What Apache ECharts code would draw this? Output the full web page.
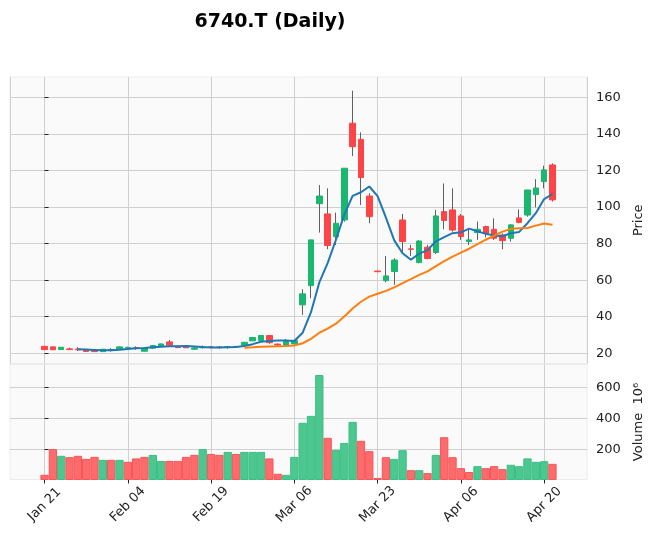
<!DOCTYPE html>
<html>
<head>
<meta charset="utf-8">
<title>6740.T (Daily)</title>
<script src="https://cdn.jsdelivr.net/npm/echarts@6/dist/echarts.min.js"></script>
<style>
  html, body { margin: 0; padding: 0; background: #ffffff; }
  #chart { width: 656px; height: 543px; }
</style>
</head>
<body>
<div id="chart"></div>
<script>
// trading days, one bar per entry
const dates = [
  'Jan 21', 'Jan 22', 'Jan 23', 'Jan 24', 'Jan 27', 'Jan 28', 'Jan 29', 'Jan 30', 'Jan 31', 'Feb 03',
  'Feb 04', 'Feb 05', 'Feb 06', 'Feb 07', 'Feb 10', 'Feb 12', 'Feb 13', 'Feb 14', 'Feb 17', 'Feb 18',
  'Feb 19', 'Feb 20', 'Feb 21', 'Feb 25', 'Feb 26', 'Feb 27', 'Feb 28', 'Mar 03', 'Mar 04', 'Mar 05',
  'Mar 06', 'Mar 09', 'Mar 10', 'Mar 11', 'Mar 12', 'Mar 13', 'Mar 16', 'Mar 17', 'Mar 18', 'Mar 19',
  'Mar 23', 'Mar 24', 'Mar 25', 'Mar 26', 'Mar 27', 'Mar 30', 'Mar 31', 'Apr 01', 'Apr 02', 'Apr 03',
  'Apr 06', 'Apr 07', 'Apr 08', 'Apr 09', 'Apr 10', 'Apr 13', 'Apr 14', 'Apr 15', 'Apr 16', 'Apr 17',
  'Apr 20', 'Apr 21'
];

const opens = [
  23.8, 23.5, 22.0, 22.4, 22.3, 21.9, 21.8, 20.9, 21.9, 22.2,
  23.0, 23.1, 21.1, 22.8, 24.0, 26.2, 23.7, 24.1, 22.2, 23.0,
  23.5, 23.4, 23.2, 23.7, 24.4, 26.8, 27.0, 29.7, 25.0, 24.4,
  25.1, 46.5, 57.0, 101.8, 96.2, 83.8, 92.9, 145.8, 137.0, 106.0,
  65.0, 59.7, 64.7, 92.9, 77.1, 69.6, 78.0, 75.1, 97.5, 98.4,
  95.1, 81.1, 86.0, 89.3, 87.8, 84.7, 82.9, 94.0, 95.6, 106.8,
  113.9, 123.0
];
const closes = [
  22.0, 21.9, 23.3, 22.0, 21.9, 21.0, 20.9, 22.2, 22.1, 23.5,
  23.2, 23.0, 22.6, 24.2, 25.1, 24.4, 23.1, 23.0, 22.9, 23.4,
  23.3, 23.2, 23.6, 23.5, 26.0, 28.6, 29.7, 25.8, 24.5, 26.4,
  27.0, 52.5, 82.0, 106.0, 78.9, 91.1, 121.2, 133.0, 116.1, 94.7,
  64.6, 62.3, 71.0, 81.1, 76.8, 81.4, 71.8, 95.1, 92.6, 87.4,
  83.8, 82.0, 87.8, 85.6, 82.9, 81.6, 90.2, 91.6, 109.3, 110.4,
  120.3, 103.9
];
const lows = [
  21.9, 21.8, 21.9, 21.9, 21.2, 20.8, 20.8, 20.8, 20.9, 22.0,
  21.8, 21.9, 21.0, 22.4, 23.9, 24.0, 22.8, 22.9, 22.0, 22.6,
  22.7, 22.5, 22.5, 23.2, 24.2, 26.6, 26.9, 25.2, 24.0, 24.0,
  24.8, 41.0, 50.1, 86.0, 76.9, 79.2, 92.0, 127.9, 101.1, 91.1,
  64.5, 58.8, 57.4, 75.6, 73.2, 69.2, 71.4, 74.3, 87.8, 86.5,
  82.0, 79.2, 82.0, 83.4, 82.0, 76.9, 81.1, 91.1, 94.7, 99.8,
  110.2, 103.0
];
const highs = [
  24.0, 23.6, 23.4, 23.1, 23.4, 22.0, 21.9, 22.3, 22.8, 23.7,
  23.6, 23.8, 22.9, 24.4, 25.3, 27.3, 24.2, 24.3, 23.2, 24.2,
  24.0, 23.8, 24.0, 24.1, 26.2, 28.8, 30.0, 29.9, 25.3, 27.8,
  27.5, 55.0, 82.0, 112.0, 110.2, 96.9, 121.2, 163.6, 140.8, 107.5,
  65.1, 73.2, 72.0, 96.2, 79.3, 81.8, 79.3, 98.4, 112.9, 110.2,
  96.2, 88.4, 92.0, 89.8, 93.8, 85.6, 90.7, 98.7, 109.3, 115.2,
  122.6, 123.9
];
// volume in millions of shares
const volumes = [
  34, 200, 157, 148, 157, 137, 150, 131, 131, 131,
  118, 140, 150, 163, 124, 124, 124, 150, 163, 200,
  169, 163, 182, 169, 182, 182, 182, 140, 41, 34,
  150, 370, 415, 679, 273, 195, 240, 376, 254, 187,
  13, 148, 137, 193, 64, 64, 45, 163, 277, 148,
  77, 52, 90, 77, 90, 71, 99, 90, 140, 118,
  122, 105
];

const dateTicks = [0, 10, 20, 30, 40, 50, 60];
const priceTicks = [20, 40, 60, 80, 100, 120, 140, 160];
const volumeTicks = [200, 400, 600];
const mavWindows = [5, 25];

const UP = '#19b76f';
const DOWN = '#fe4446';
const WICK = '#606060';
const VOL_UP = '#4dc790';
const VOL_DOWN = '#fd6b6c';
const FONT = 'DejaVu Sans';

function movingAverage(values, n) {
  const out = [];
  for (let i = n - 1; i < values.length; i++) {
    let sum = 0;
    for (let k = i - n + 1; k <= i; k++) sum += values[k];
    out.push([i, sum / n]);
  }
  return out;
}

const wickData = opens.map((o, i) => [i, o, closes[i], lows[i], highs[i]]);
const bodyData = opens.map((o, i) => [i, o, closes[i], Math.min(o, closes[i]), Math.max(o, closes[i])]);
const volumeData = volumes.map((v, i) => {
  const up = i > 0 && closes[i] > closes[i - 1];
  return {
    value: [i, v],
    itemStyle: {
      color: up ? VOL_UP : VOL_DOWN,
      borderColor: up ? '#3cbd83' : '#f85557',
      borderWidth: 1
    }
  };
});

const xMin = -4.15;
const xMax = volumes.length + 3.15;

const chart = echarts.init(document.getElementById('chart'), null, { renderer: 'canvas' });

const gridLine = { show: true, lineStyle: { color: '#d0d0d0', width: 1 } };

const xAxisBase = {
  type: 'value',
  min: xMin,
  max: xMax,
  minInterval: 10,
  maxInterval: 10,
  z: 1,
  axisLine: { show: false },
  splitLine: gridLine
};

const option = {
  animation: false,
  backgroundColor: '#ffffff',
  textStyle: { fontFamily: FONT },
  title: {
    text: '6740.T (Daily)',
    left: 265,
    top: 8,
    textAlign: 'center',
    textStyle: { fontFamily: FONT, fontSize: 19, fontWeight: 'bold', color: '#000000' }
  },
  graphic: [
    { type: 'rect', z: -10, silent: true, shape: { x: 10, y: 77, width: 577, height: 286.5 },
      style: { fill: '#fafafa', stroke: '#ececec', lineWidth: 1 } },
    { type: 'rect', z: -10, silent: true, shape: { x: 10, y: 364.5, width: 577, height: 115 },
      style: { fill: '#fafafa', stroke: '#ececec', lineWidth: 1 } }
  ],
  grid: [
    { left: 10, right: 69, top: 77, height: 286.5 },
    { left: 10, right: 69, top: 364.5, height: 115 }
  ],
  xAxis: [
    Object.assign({}, xAxisBase, {
      gridIndex: 0,
      axisTick: { show: false },
      axisLabel: { show: false }
    }),
    Object.assign({}, xAxisBase, {
      gridIndex: 1,
      axisTick: { show: true, length: 4, lineStyle: { color: '#222222' }, customValues: dateTicks },
      axisLabel: {
        show: true,
        customValues: dateTicks,
        rotate: 45,
        align: 'center',
        verticalAlign: 'middle',
        margin: 25,
        fontFamily: FONT,
        fontSize: 13,
        color: '#222222',
        formatter: (v) => {
          const i = Math.round(v);
          return Math.abs(v - i) < 1e-6 && dates[i] ? dates[i] : '';
        }
      }
    })
  ],
  yAxis: [
    {
      type: 'value',
      gridIndex: 0,
      position: 'right',
      min: 14.4,
      max: 171.1,
      minInterval: 20,
      maxInterval: 20,
      z: 1,
      name: 'Price',
      nameLocation: 'middle',
      nameRotate: 90,
      nameGap: 41,
      nameTextStyle: { fontFamily: FONT, fontSize: 13, color: '#222222' },
      axisLine: { show: false },
      axisTick: { show: true, length: 4, lineStyle: { color: '#222222' }, customValues: priceTicks },
      axisLabel: {
        customValues: priceTicks,
        margin: 9,
        fontFamily: FONT,
        fontSize: 13,
        color: '#222222'
      },
      splitLine: gridLine
    },
    {
      type: 'value',
      gridIndex: 1,
      position: 'right',
      min: 0.3 * Math.min(...volumes),
      max: 1.1 * Math.max(...volumes),
      minInterval: 200,
      maxInterval: 200,
      z: 1,
      name: 'Volume  10⁶',
      nameLocation: 'middle',
      nameRotate: 90,
      nameGap: 43,
      nameTextStyle: { fontFamily: FONT, fontSize: 13, color: '#222222' },
      axisLine: { show: false },
      axisTick: { show: true, length: 4, lineStyle: { color: '#222222' }, customValues: volumeTicks },
      axisLabel: {
        customValues: volumeTicks,
        margin: 9,
        fontFamily: FONT,
        fontSize: 13,
        color: '#222222'
      },
      splitLine: gridLine
    }
  ],
  series: [
    {
      name: 'wick',
      type: 'candlestick',
      xAxisIndex: 0,
      yAxisIndex: 0,
      barWidth: 1,
      data: wickData,
      itemStyle: { color: WICK, color0: WICK, borderColor: WICK, borderColor0: WICK, borderWidth: 1 },
      z: 2
    },
    {
      name: 'body',
      type: 'candlestick',
      xAxisIndex: 0,
      yAxisIndex: 0,
      barWidth: 6,
      data: bodyData,
      itemStyle: { color: UP, color0: DOWN, borderColor: UP, borderColor0: DOWN, borderWidth: 1 },
      z: 3
    },
    {
      name: 'MA' + mavWindows[0],
      type: 'line',
      xAxisIndex: 0,
      yAxisIndex: 0,
      data: movingAverage(closes, mavWindows[0]),
      showSymbol: false,
      lineStyle: { color: '#1f77b4', width: 2 },
      z: 4
    },
    {
      name: 'MA' + mavWindows[1],
      type: 'line',
      xAxisIndex: 0,
      yAxisIndex: 0,
      data: movingAverage(closes, mavWindows[1]),
      showSymbol: false,
      lineStyle: { color: '#ff7f0e', width: 2 },
      z: 4
    },
    {
      name: 'Volume',
      type: 'bar',
      xAxisIndex: 1,
      yAxisIndex: 1,
      barWidth: 8.3,
      data: volumeData
    }
  ]
};

chart.setOption(option);
window.onresize = function () {
  chart.resize();
};
</script>
</body>
</html>
